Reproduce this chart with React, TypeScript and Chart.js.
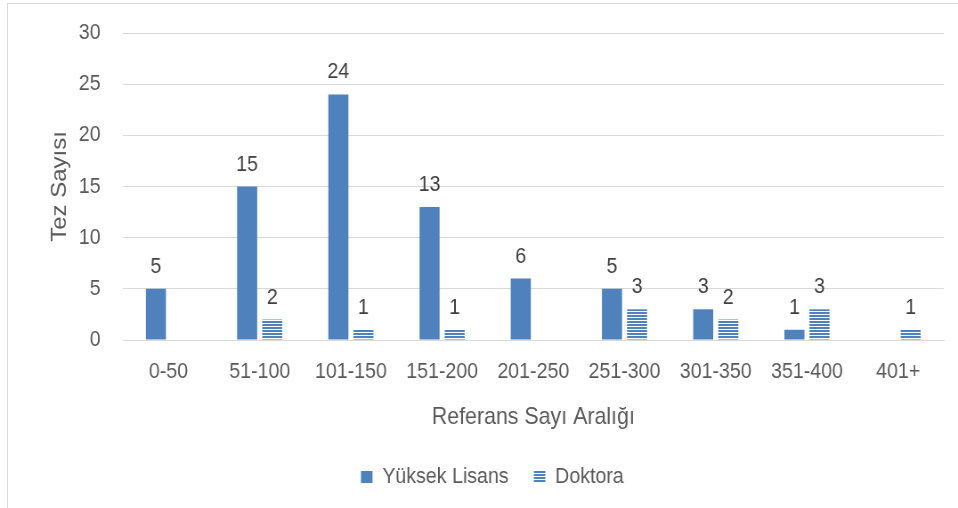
import React, { useEffect, useRef } from "react";
import { Chart, registerables } from "chart.js";

Chart.register(...registerables);

const categories = ["0-50", "51-100", "101-150", "151-200", "201-250", "251-300", "301-350", "351-400", "401+"];
const yuksekLisans: (number | null)[] = [5, 15, 24, 13, 6, 5, 3, 1, null];
const doktora: (number | null)[] = [null, 2, 1, 1, null, 3, 2, 3, 1];
const seriesNames = ["Yüksek Lisans", "Doktora"];
const yTitle = "Tez Sayısı";
const xTitle = "Referans Sayı Aralığı";

const BLUE = "#4f81bd";
const FONT = "'Liberation Sans', Arial, sans-serif";
// horizontal condensing of the whole drawing (internal width -> displayed 958)
const K = 0.89;
const W = Math.round(958 / K);
const H = 508;

function makePattern(): CanvasPattern | string {
  const c = document.createElement("canvas");
  c.width = 4;
  c.height = 3;
  const ctx = c.getContext("2d");
  if (!ctx) return BLUE;
  ctx.fillStyle = "#ffffff";
  ctx.fillRect(0, 0, 4, 3);
  ctx.fillStyle = BLUE;
  ctx.fillRect(0, 0, 4, 2);
  return ctx.createPattern(c, "repeat") || BLUE;
}

const labelPlugin = {
  id: "valueLabels",
  afterDatasetsDraw(chart: any) {
    const ctx = chart.ctx;
    ctx.save();
    ctx.font = `22px ${FONT}`;
    ctx.fillStyle = "#404040";
    ctx.textAlign = "center";
    ctx.textBaseline = "alphabetic";
    chart.data.datasets.forEach((ds: any, i: number) => {
      const meta = chart.getDatasetMeta(i);
      meta.data.forEach((el: any, j: number) => {
        const v = ds.data[j];
        if (v === null || v === undefined) return;
        ctx.fillText(String(v), el.x, el.y - 16);
      });
    });
    ctx.restore();
  },
};

export default function App() {
  const ref = useRef<HTMLCanvasElement>(null);
  useEffect(() => {
    if (!ref.current) return;
    const pattern = makePattern();
    const chart = new Chart(ref.current, {
      type: "bar",
      data: {
        labels: categories,
        datasets: [
          {
            label: seriesNames[0],
            data: yuksekLisans,
            backgroundColor: BLUE,
            borderWidth: 0,
          },
          {
            label: seriesNames[1],
            data: doktora,
            backgroundColor: pattern as any,
            borderWidth: 0,
          },
        ],
      },
      options: {
        animation: false,
        responsive: false,
        maintainAspectRatio: false,
        devicePixelRatio: 1,
        layout: { padding: { left: 46, right: 16, top: 33, bottom: 10 } },
        datasets: {
          bar: { categoryPercentage: 0.55, barPercentage: 0.8 },
        },
        plugins: {
          tooltip: { enabled: false },
          legend: {
            position: "bottom",
            labels: {
              font: { family: FONT, size: 22 },
              color: "#595959",
              boxWidth: 13,
              boxHeight: 12,
              padding: 10,
              generateLabels: (c: any) =>
                (Chart.defaults.plugins.legend.labels as any)
                  .generateLabels(c)
                  .map((l: any, i: number) => (i === 0 ? { ...l, text: l.text + "   " } : l)),
            },
          },
        },
        scales: {
          x: {
            grid: { display: false, drawTicks: false },
            border: { color: "#d9d9d9" },
            ticks: {
              font: { family: FONT, size: 22 },
              color: "#595959",
              padding: 19,
              maxRotation: 0,
            },
            title: {
              display: true,
              text: xTitle,
              font: { family: FONT, size: 24 },
              color: "#595959",
              padding: { top: 0, bottom: 24 },
            },
            afterFit: (s: any) => {
              s.height = 116;
            },
          },
          y: {
            min: 0,
            max: 30,
            ticks: {
              stepSize: 5,
              font: { family: FONT, size: 22 },
              color: "#595959",
              padding: 0,
            },
            grid: {
              color: "#d9d9d9",
              drawTicks: true,
              tickLength: 25,
              tickColor: "rgba(0,0,0,0)",
            },
            border: { display: false },
            title: {
              display: true,
              text: yTitle,
              font: { family: FONT, size: 24 },
              color: "#595959",
              padding: { top: 7, bottom: 0 },
            },
            afterFit: (s: any) => {
              s.width = 92;
            },
          },
        },
      },
      plugins: [labelPlugin],
    });
    return () => chart.destroy();
  }, []);

  return (
    <div>
      <div
        style={{
          position: "fixed",
          left: 7,
          top: 3,
          width: 1000,
          height: 600,
          borderTop: "1px solid #d9d9d9",
          borderLeft: "1px solid #d9d9d9",
          background: "#fff",
        }}
      />
      <canvas
        ref={ref}
        width={W}
        height={H}
        style={{ position: "fixed", left: 0, top: 0, width: 958, height: H }}
      />
    </div>
  );
}
